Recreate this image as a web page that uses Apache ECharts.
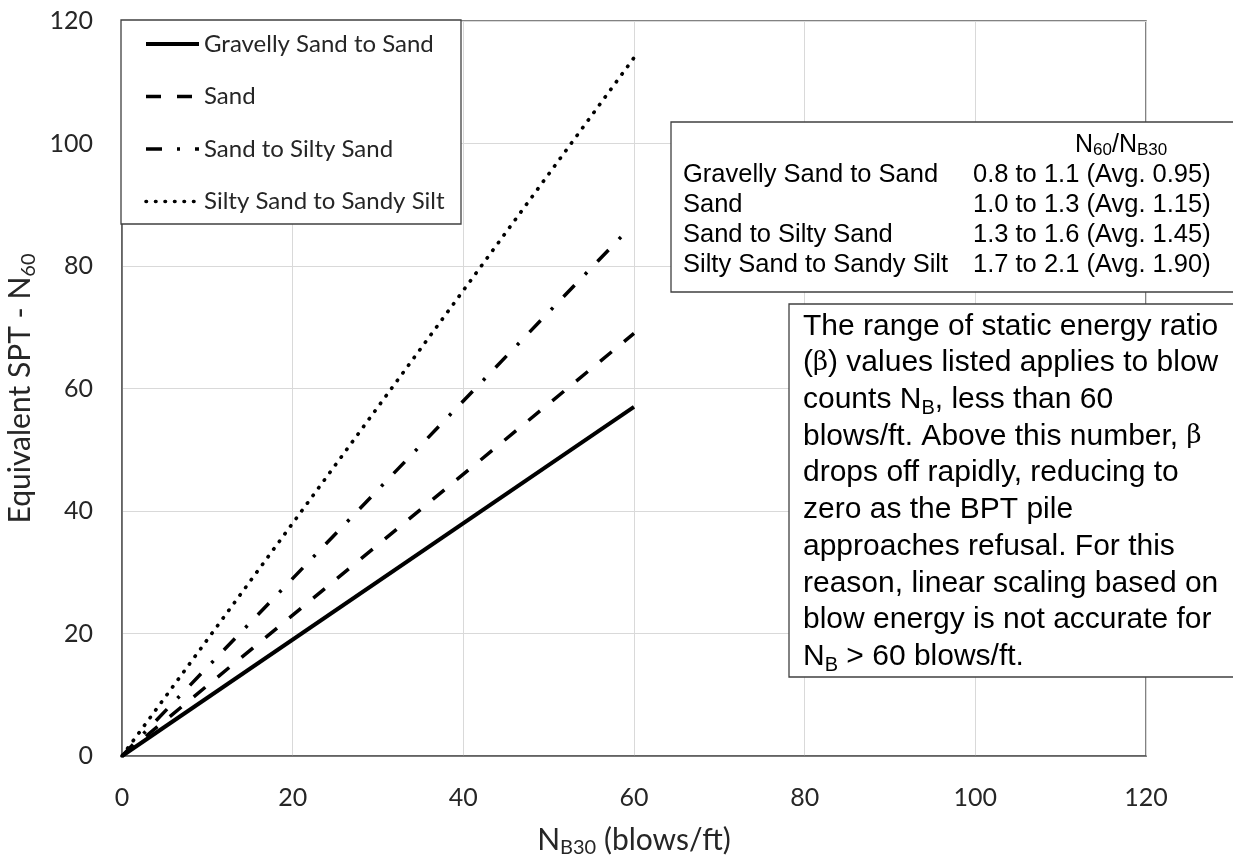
<!DOCTYPE html>
<html>
<head>
<meta charset="utf-8">
<script src="https://cdn.jsdelivr.net/npm/echarts@6/dist/echarts.min.js"></script>
<style>
  html, body { margin: 0; padding: 0; background: #fff; }
  #chart { width: 1233px; height: 859px; }
</style>
</head>
<body>
<div id="chart"></div>
<script>
// equivalent SPT N60 vs BPT N_B30, one line per soil type (avg. ratio)
const soilNames = ['Gravelly Sand to Sand', 'Sand', 'Sand to Silty Sand', 'Silty Sand to Sandy Silt'];
const gravellySand = [[0, 0], [60, 57]];
const sand = [[0, 0], [60, 69]];
const sandToSiltySand = [[0, 0], [59, 85.5]];
const siltySandToSandySilt = [[0, 0], [60, 114]];

const xTicks = [0, 20, 40, 60, 80, 100, 120];
const yTicks = [0, 20, 40, 60, 80, 100, 120];

const ratioRanges = ['0.8 to 1.1 (Avg. 0.95)', '1.0 to 1.3 (Avg. 1.15)', '1.3 to 1.6 (Avg. 1.45)', '1.7 to 2.1 (Avg. 1.90)'];

const noteLines = [
  'The range of static energy ratio',
  '({b|β}) values listed applies to blow',
  'counts N{s|B}, less than 60',
  'blows/ft. Above this number, {b|β}',
  'drops off rapidly, reducing to',
  'zero as the BPT pile',
  'approaches refusal. For this',
  'reason, linear scaling based on',
  'blow energy is not accurate for',
  'N{s|B} > 60 blows/ft.'
];

const AX_FONT = 'Lato';
const BOX_FONT = '"Liberation Sans", Arial, sans-serif';
const INK = '#262626';

// line looks: solid / dash / dash-dot / round dots
const lineLooks = [
  { type: 'solid', width: 4, cap: 'butt' },
  { type: [15, 16], width: 3.5, cap: 'butt' },
  { type: [16, 15, 3, 15], width: 3.5, cap: 'butt' },
  { type: [0.5, 9], width: 3.6, cap: 'round' }
];
const seriesData = [gravellySand, sand, sandToSiltySand, siltySandToSandySilt];

const chart = echarts.init(document.getElementById('chart'), null, { renderer: 'canvas' });

const boxRect = (x, y, w, h) => ({
  type: 'rect', z: 3,
  shape: { x, y, width: w, height: h },
  style: { fill: '#fff', stroke: '#404040', lineWidth: 1.3 }
});

const graphics = [
  boxRect(121, 20, 340, 204),
  boxRect(671, 122, 600, 170),
  boxRect(789, 304, 470, 373),
  {
    type: 'text', z: 4, x: 1075, y: 145,
    style: {
      text: '{n|N}{s|60}{n|/N}{s|B30}',
      align: 'left', verticalAlign: 'middle', fill: '#000',
      fontFamily: BOX_FONT, fontSize: 25,
      rich: {
        n: { fontFamily: BOX_FONT, fontSize: 25, lineHeight: 28, fill: '#000' },
        s: { fontFamily: BOX_FONT, fontSize: 17, lineHeight: 17, verticalAlign: 'bottom', fill: '#000' }
      }
    }
  },
  {
    type: 'text', z: 4, x: 803, y: 308,
    style: {
      text: noteLines.join('\n'),
      fill: '#000', fontFamily: BOX_FONT, fontSize: 30, lineHeight: 36.7,
      align: 'left', verticalAlign: 'top',
      rich: {
        s: { fontFamily: BOX_FONT, fontSize: 20, lineHeight: 20, verticalAlign: 'bottom', fill: '#000' },
        b: { fontFamily: '"DejaVu Serif", serif', fontSize: 26, lineHeight: 36.7, fill: '#000' }
      }
    }
  }
];
soilNames.forEach((name, i) => {
  const y = 175 + i * 30;
  graphics.push({
    type: 'text', z: 4, x: 683, y,
    style: { text: name, fill: '#000', fontFamily: BOX_FONT, fontSize: 25.5, align: 'left', verticalAlign: 'middle' }
  });
  graphics.push({
    type: 'text', z: 4, x: 973, y,
    style: { text: ratioRanges[i], fill: '#000', fontFamily: BOX_FONT, fontSize: 25.5, align: 'left', verticalAlign: 'middle' }
  });
});

const titleRich = {
  n: { fontFamily: AX_FONT, fontSize: 30, lineHeight: 36, color: INK },
  s: { fontFamily: AX_FONT, fontSize: 20, lineHeight: 20, verticalAlign: 'bottom', color: INK }
};

chart.setOption({
  animation: false,
  backgroundColor: '#fff',
  grid: {
    left: 122, right: 87, top: 21, bottom: 103,
    outerBoundsMode: 'none', containLabel: false,
    show: true, borderColor: '#595959', borderWidth: 1.5
  },
  legend: {
    orient: 'vertical', left: 144, top: 31, padding: 0,
    itemWidth: 53, itemHeight: 14, itemGap: 26.5, z: 4,
    selectedMode: false,
    data: soilNames.map((name, i) => ({
      name,
      itemStyle: { opacity: 0 },
      lineStyle: { color: '#000', width: lineLooks[i].width, type: lineLooks[i].type, cap: lineLooks[i].cap }
    })),
    textStyle: { fontFamily: AX_FONT, fontSize: 24, color: INK, lineHeight: 26 }
  },
  xAxis: {
    type: 'value', min: xTicks[0], max: xTicks[xTicks.length - 1], interval: xTicks[1] - xTicks[0],
    name: '{n|N}{s|B30}{n| (blows/ft)}',
    nameLocation: 'middle', nameGap: 66,
    nameTextStyle: { fontFamily: AX_FONT, fontSize: 30, color: INK, rich: titleRich },
    axisLine: { show: true, lineStyle: { color: '#595959', width: 1.5 } },
    axisTick: { show: false },
    axisLabel: { margin: 29, fontFamily: AX_FONT, fontSize: 25, color: INK },
    splitLine: { show: true, lineStyle: { color: '#d9d9d9', width: 1 } }
  },
  yAxis: {
    type: 'value', min: yTicks[0], max: yTicks[yTicks.length - 1], interval: yTicks[1] - yTicks[0],
    name: '{n|Equivalent SPT - N}{s|60}',
    nameLocation: 'middle', nameGap: 79,
    nameTextStyle: { fontFamily: AX_FONT, fontSize: 30, color: INK, rich: titleRich },
    axisLine: { show: true, lineStyle: { color: '#595959', width: 1.5 } },
    axisTick: { show: false },
    axisLabel: { margin: 29, fontFamily: AX_FONT, fontSize: 25, color: INK },
    splitLine: { show: true, lineStyle: { color: '#d9d9d9', width: 1 } }
  },
  graphic: graphics,
  series: soilNames.map((name, i) => ({
    name,
    type: 'line',
    data: seriesData[i],
    symbol: 'none',
    showSymbol: false,
    z: 2,
    color: '#000',
    lineStyle: { color: '#000', width: lineLooks[i].width, type: lineLooks[i].type, cap: lineLooks[i].cap },
    emphasis: { disabled: true }
  }))
});
</script>
</body>
</html>
